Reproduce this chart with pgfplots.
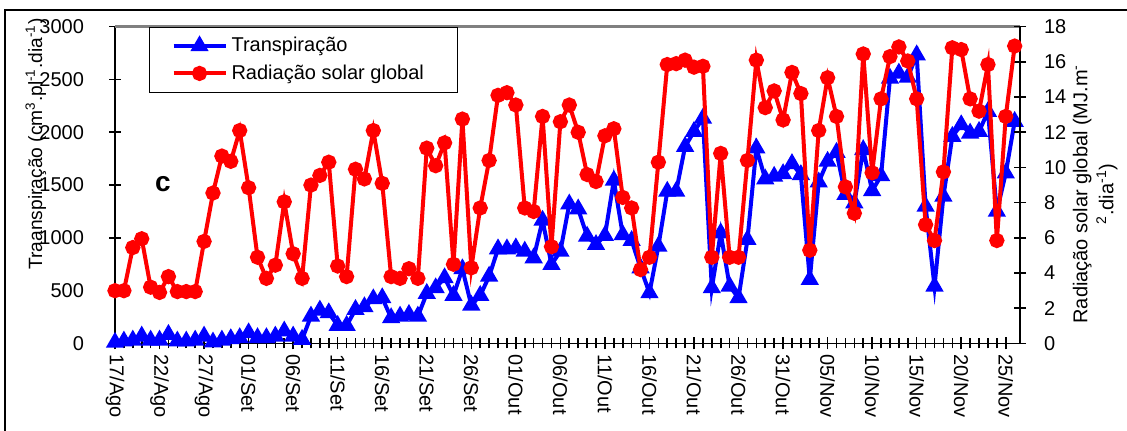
\documentclass[border=0pt]{standalone}
\usepackage{pgfplots}
\pgfplotsset{compat=1.18}
\usepackage{pgfplotstable}
\usepackage{fontspec}
\setmainfont{Liberation Sans}

\pgfplotstableread{
d t
0 10
1 22
2 31
3 69
4 31
5 31
6 85
7 22
8 22
9 31
10 69
11 13
12 31
13 44
14 54
15 100
16 54
17 54
18 69
19 117
20 69
21 38
22 258
23 315
24 290
25 170
26 170
27 321
28 347
29 422
30 432
31 243
32 258
33 274
34 258
35 473
36 526
37 621
38 454
39 706
40 362
41 454
42 636
43 895
44 895
45 904
46 873
47 810
48 1166
49 747
50 873
51 1320
52 1273
53 1015
54 936
55 1021
56 1544
57 1030
58 974
59 715
60 479
61 920
62 1440
63 1440
64 1865
65 2007
66 2133
67 526
68 1046
69 542
70 432
71 983
72 1850
73 1557
74 1582
75 1607
76 1702
77 1598
78 605
79 1528
80 1724
81 1809
82 1409
83 1330
84 1834
85 1446
86 1588
87 2511
88 2559
89 2521
90 2732
91 1298
92 542
93 1393
94 1960
95 2070
96 1991
97 2007
98 2196
99 1251
100 1613
101 2102
}\transp

\pgfplotstableread{
d r
0 3.0
1 3.0
2 5.45
3 5.95
4 3.2
5 2.9
6 3.8
7 2.95
8 2.95
9 2.95
10 5.8
11 8.55
12 10.65
13 10.35
14 12.1
15 8.85
16 4.9
17 3.7
18 4.45
19 8.05
20 5.1
21 3.7
22 9.0
23 9.55
24 10.3
25 4.4
26 3.8
27 9.9
28 9.35
29 12.1
30 9.1
31 3.8
32 3.7
33 4.25
34 3.7
35 11.1
36 10.1
37 11.4
38 4.5
39 12.75
40 4.3
41 7.7
42 10.4
43 14.1
44 14.25
45 13.55
46 7.7
47 7.5
48 12.9
49 5.5
50 12.6
51 13.55
52 12.0
53 9.6
54 9.2
55 11.8
56 12.2
57 8.3
58 7.7
59 4.2
60 4.9
61 10.3
62 15.85
63 15.9
64 16.1
65 15.7
66 15.75
67 4.9
68 10.8
69 4.9
70 4.9
71 10.4
72 16.1
73 13.4
74 14.35
75 12.7
76 15.4
77 14.2
78 5.3
79 12.1
80 15.1
81 12.9
82 8.9
83 7.4
84 16.45
85 9.7
86 13.9
87 16.3
88 16.85
89 16.05
90 13.9
91 6.75
92 5.85
93 9.75
94 16.8
95 16.7
96 13.9
97 13.2
98 15.85
99 5.85
100 12.9
101 16.9
}\rad

\begin{document}
\begin{tikzpicture}[x=1pt,y=1pt]
\useasboundingbox (0,0) rectangle (563.5,215.5);
\draw[line width=1pt] (2.5,-3) -- (2.5,210.5) -- (567,210.5);
\pgfplotsset{
  mybase/.style={
    at={(57.5pt,43.75pt)}, anchor=south west,
    scale only axis, width=452.5pt, height=158.4pt,
    xmin=0, xmax=101.6,
    clip=false,
    tick align=center,
    major tick length=6pt, minor tick length=5pt,
    every tick/.style={black, line width=0.8pt},
    axis line style={line width=0.9pt, -},
    /pgf/number format/assume math mode=true,
    /pgf/number format/1000 sep={},
    tick label style={font=\fontsize{10}{12}\selectfont},
    label style={font=\fontsize{10}{13}\selectfont},
  }
}
\begin{axis}[
  mybase,
  ymin=0, ymax=3000,
  axis x line*=bottom, axis y line*=left,
  xtick={0,5,...,100},
  xticklabels={17/Ago,22/Ago,27/Ago,01/Set,06/Set,11/Set,16/Set,21/Set,26/Set,01/Out,06/Out,11/Out,16/Out,21/Out,26/Out,31/Out,05/Nov,10/Nov,15/Nov,20/Nov,25/Nov},
  minor x tick num=4,
  ytick={0,500,...,3000},
  xticklabel style={rotate=-90, anchor=west, xshift=-1pt},
  yticklabel style={xshift=-9pt},
  ylabel={Traanspiração (cm\textsuperscript{3}.pl\textsuperscript{-1}.dia\textsuperscript{-1})},
  ylabel style={at={(axis description cs:-0.0805,0.63)}, anchor=base, font=\fontsize{9.6}{12}\selectfont},
]
\addplot[blue, line width=2pt, mark=triangle*, mark size=3.3pt, mark options={solid}] table[x=d,y=t] {\transp};
\draw[gray, line width=1.5pt] (rel axis cs:0,1) -- (rel axis cs:1,1);
\node[font=\bfseries\fontsize{14}{16}\selectfont] at (axis description cs:0.053,0.503) {c};
\end{axis}
\begin{axis}[
  mybase,
  ymin=0, ymax=18,
  axis x line=none, axis y line*=right,
  ytick={0,2,...,18},
  yticklabel style={xshift=5.5pt},
  ylabel={Radiação solar global (MJ.m\textsuperscript{-}\\\textsuperscript{2}.dia\textsuperscript{-1})},
  ylabel style={at={(axis description cs:1.083,0.472)}, anchor=center, align=center},
  legend style={at={(axis description cs:0.0376,1.0)}, anchor=north west, draw=black, line width=0.5pt, fill=white, font=\fontsize{10}{12}\selectfont, inner xsep=11pt, inner ysep=3pt, row sep=1pt},
  legend cell align=left,
  legend image code/.code={\draw[mark repeat=2,mark phase=2,#1] plot coordinates {(0pt,0pt) (13pt,0pt) (26pt,0pt)};},
]
\addlegendimage{blue, line width=2pt, mark=triangle*, mark size=3.3pt}
\addlegendentry{Transpiração}
\addplot[red, line width=2pt, mark=*, mark size=2.8pt, mark options={solid}] table[x=d,y=r] {\rad};
\addlegendentry{Radiação solar global\hspace*{4pt}}
\end{axis}
\end{tikzpicture}
\end{document}
